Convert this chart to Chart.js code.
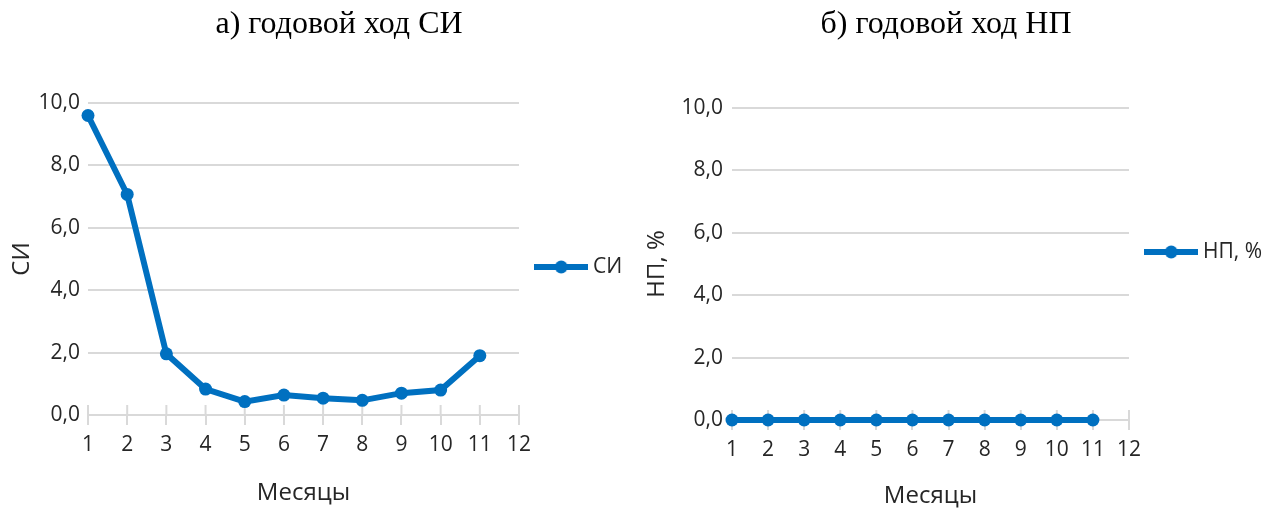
<!DOCTYPE html>
<html>
<head>
<meta charset="utf-8">
<script src="https://cdn.jsdelivr.net/npm/chart.js@4.4.0/dist/chart.umd.min.js"></script>
<style>
  html, body { margin: 0; padding: 0; background: #fff; overflow: hidden; width: 1276px; height: 511px; }
  canvas { position: absolute; top: 0; }
</style>
</head>
<body>
<canvas id="chartA" width="678" height="511" style="left:0px"></canvas>
<canvas id="chartB" width="658" height="511" style="left:617px"></canvas>
<script>
  // data
  var months = [1, 2, 3, 4, 5, 6, 7, 8, 9, 10, 11];
  var siValues = [9.6, 7.07, 1.96, 0.83, 0.43, 0.64, 0.54, 0.47, 0.7, 0.8, 1.9];
  var npValues = [0, 0, 0, 0, 0, 0, 0, 0, 0, 0, 0];
  var xTicks = [1, 2, 3, 4, 5, 6, 7, 8, 9, 10, 11, 12];
  var yTicks = [0, 2, 4, 6, 8, 10];

  var BLUE = "#0070C0";
  var GRID = "#d9d9d9";
  var TEXT = "#262626";
  var SANS = '"Open Sans", "Noto Sans", sans-serif';
  var SERIF = '"Liberation Serif", "Times New Roman", serif';
  var LEG_FONT = 21;
  var LEG_PAD = 21;
  var AX_FONT = 24;

  // legend icon: line with a dot in the middle
  function legendIcon() {
    var c = document.createElement("canvas");
    c.width = 54;
    c.height = 16;
    var g = c.getContext("2d");
    g.strokeStyle = BLUE;
    g.lineWidth = 6;
    g.beginPath();
    g.moveTo(0, 8);
    g.lineTo(54, 8);
    g.stroke();
    g.fillStyle = BLUE;
    g.beginPath();
    g.arc(27, 8, 6.5, 0, Math.PI * 2);
    g.fill();
    return c;
  }
  var icon = legendIcon();

  // small tick marks above the x axis (Excel style cross ticks)
  var crossTicks = {
    id: "crossTicks",
    beforeDatasetsDraw: function (chart) {
      var s = chart.scales.x;
      var ctx = chart.ctx;
      var b = chart.chartArea.bottom;
      ctx.save();
      ctx.strokeStyle = GRID;
      ctx.lineWidth = 2;
      s.ticks.forEach(function (t) {
        var x = s.getPixelForValue(t.value);
        ctx.beginPath();
        ctx.moveTo(x, b - 10);
        ctx.lineTo(x, b);
        ctx.stroke();
      });
      ctx.restore();
    },
  };

  function makeChart(id, p) {
    var H = 511;
    var canvas = document.getElementById(id);
    var half = AX_FONT * 1.2 / 2;
    var cfg = {
      type: "line",
      data: {
        datasets: [
          {
            label: p.label,
            data: months.map(function (m, i) { return { x: m, y: p.values[i] }; }),
            borderColor: BLUE,
            backgroundColor: BLUE,
            borderWidth: 6,
            pointRadius: 6.5,
            pointHoverRadius: 6.5,
            pointBorderWidth: 0,
            pointBackgroundColor: BLUE,
            tension: 0,
            clip: false,
          },
        ],
      },
      options: {
        responsive: false,
        animation: false,
        layout: { padding: 0 },
        plugins: {
          title: {
            display: true,
            text: p.title,
            color: "#000",
            font: { family: SERIF, size: 32, weight: "normal", lineHeight: 1.2 },
            padding: { top: p.titleY - 19.2, bottom: p.plot.top - p.titleY - 19.2 },
          },
          legend: {
            position: "right",
            fullSize: false,
            align: "start",
            title: {
              display: true,
              text: "",
              font: { size: 1 },
              padding: { top: p.legendY - p.plot.top - 1.2 - LEG_PAD - LEG_FONT / 2, bottom: 0 },
            },
            labels: {
              usePointStyle: true,
              pointStyleWidth: 42.5,
              padding: LEG_PAD,
              color: TEXT,
              font: { family: SANS, size: LEG_FONT },
              generateLabels: function () {
                return [{
                  text: p.label,
                  pointStyle: icon,
                  fillStyle: BLUE,
                  strokeStyle: BLUE,
                  lineWidth: 0,
                  fontColor: TEXT,
                  hidden: false,
                  datasetIndex: 0,
                }];
              },
            },
          },
          tooltip: { enabled: false },
        },
        scales: {
          x: {
            type: "linear",
            min: xTicks[0],
            max: xTicks[xTicks.length - 1],
            afterBuildTicks: function (s) {
              s.ticks = xTicks.map(function (v) { return { value: v }; });
            },
            ticks: { color: TEXT, font: { family: SANS, size: 21 }, padding: p.xTickPad, maxRotation: 0 },
            grid: { drawOnChartArea: false, tickLength: 10, color: GRID, lineWidth: 2 },
            border: { color: GRID, width: 2 },
            title: {
              display: true,
              text: "Месяцы",
              color: TEXT,
              font: { family: SANS, size: AX_FONT, lineHeight: 1.2 },
              padding: { top: 0, bottom: Math.max(0, H - p.xTitleY - half) },
            },
            afterFit: function (s) { s.height = H - p.plot.bottom; },
          },
          y: {
            min: yTicks[0],
            max: yTicks[yTicks.length - 1],
            afterBuildTicks: function (s) {
              s.ticks = yTicks.map(function (v) { return { value: v }; });
            },
            ticks: {
              color: TEXT,
              font: { family: SANS, size: 21 },
              padding: p.yTickPad,
              callback: function (v) { return v.toFixed(1).replace(".", ","); },
            },
            grid: { color: GRID, lineWidth: 2, drawTicks: false },
            border: { display: false },
            title: {
              display: true,
              text: p.yTitle,
              color: TEXT,
              font: { family: SANS, size: AX_FONT, lineHeight: 1.2 },
              padding: { top: p.yTitleX - p.x0 - half, bottom: 0 },
            },
            afterFit: function (s) { s.width = p.plot.left - p.x0; },
          },
        },
      },
      plugins: [crossTicks],
    };
    var chart = new Chart(canvas, cfg);

    // legend takes the space right of the plot area
    var legendW = p.x0 + canvas.width - p.plot.right;
    var fit0 = chart.legend.fit;
    chart.legend.fit = function () {
      fit0.call(this);
      this.width = legendW;
    };
    chart.update();
    return chart;
  }

  makeChart("chartA", {
    x0: 0,
    title: "а) годовой ход СИ",
    label: "СИ",
    yTitle: "СИ",
    values: siValues,
    plot: { left: 88, right: 519, top: 103, bottom: 415 },
    titleY: 25,
    yTitleX: 22,
    xTitleY: 493,
    legendY: 267,
    xTickPad: 7,
    yTickPad: 8,
  });

  makeChart("chartB", {
    x0: 617,
    title: "б) годовой ход НП",
    label: "НП, %",
    yTitle: "НП, %",
    values: npValues,
    plot: { left: 732, right: 1129, top: 108, bottom: 420 },
    titleY: 25,
    yTitleX: 657,
    xTitleY: 497,
    legendY: 252,
    xTickPad: 7,
    yTickPad: 9,
  });
</script>
</body>
</html>
